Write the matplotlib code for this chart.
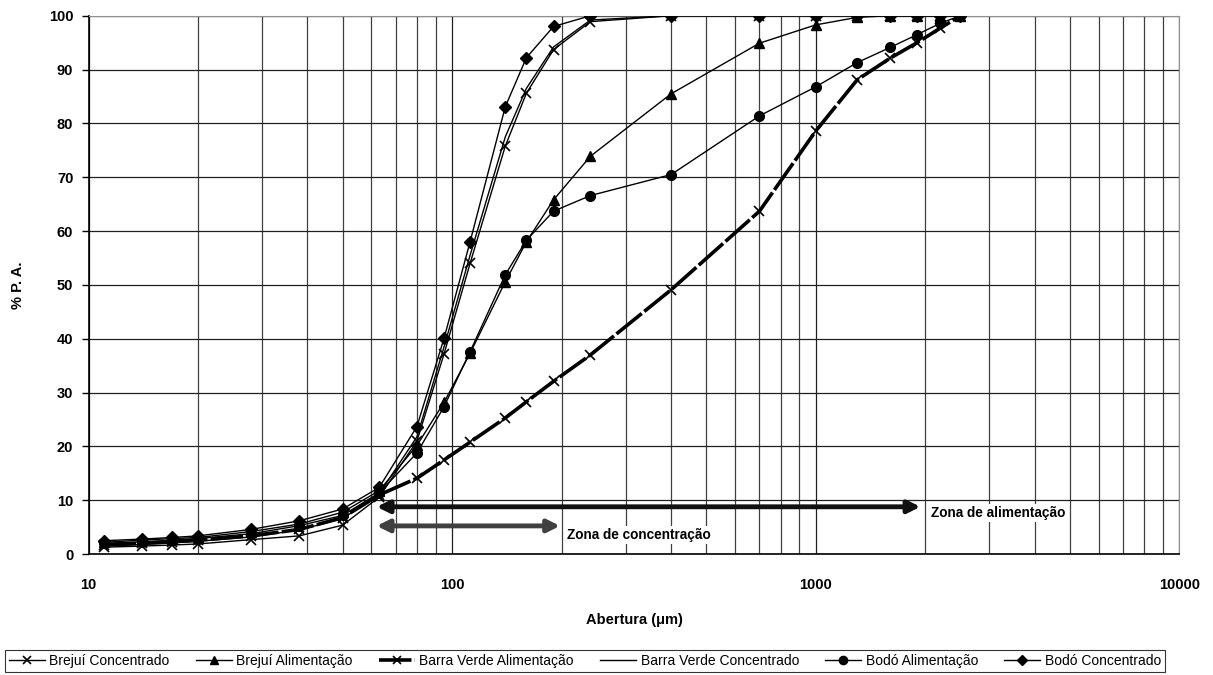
import matplotlib.pyplot as plt
from matplotlib.ticker import LogLocator, NullFormatter, FixedLocator

plt.rcParams['font.family'] = ['Liberation Sans', 'DejaVu Sans']

# sieve openings (um)
abertura = [11, 14, 17, 20, 28, 38, 50, 63, 80, 95, 112, 140, 160, 190, 240,
            400, 700, 1000, 1300, 1600, 1900, 2200, 2500]

brejui_conc = [1.3, 1.5, 1.7, 1.9, 2.7, 3.4, 5.4, 10.6, 21.0, 37.2, 54.0, 75.8,
               85.6, 93.7, 98.9, 100, 100, 100, 100, 100, 100, 100, 100]
brejui_alim = [2.2, 2.6, 2.9, 3.1, 4.2, 5.6, 7.8, 11.8, 20.2, 28.2, 37.3, 50.6,
               58.0, 65.8, 73.9, 85.5, 94.9, 98.3, 99.7, 100, 100, 100, 100]
bv_alim = [1.7, 2.0, 2.3, 2.6, 3.4, 4.6, 6.8, 11.0, 14.1, 17.5, 20.8, 25.3,
           28.3, 32.1, 37.0, 49.1, 63.7, 78.6, 88.1, 92.1, 95.0, 97.7, 100]
bv_conc = [1.6, 1.8, 2.1, 2.4, 3.2, 4.5, 6.6, 11.2, 21.8, 38.5, 55.5, 77.5,
           86.5, 94.2, 99.2, 100, 100, 100, 100, 100, 100, 100, 100]
bodo_alim = [2.0, 2.3, 2.6, 2.9, 3.8, 5.3, 7.2, 11.4, 18.8, 27.4, 37.6, 51.9,
             58.3, 63.7, 66.6, 70.5, 81.4, 86.8, 91.3, 94.1, 96.5, 98.6, 100]
bodo_conc = [2.5, 2.8, 3.1, 3.4, 4.6, 6.2, 8.4, 12.4, 23.7, 40.1, 58.0, 83.1,
             92.2, 98.0, 100, 100, 100, 100, 100, 100, 100, 100, 100]

# zones (um)
zona_alim = (62, 1940)
zona_conc = (62, 198)

fig = plt.figure(figsize=(12.13, 6.75), dpi=100)
ax = fig.add_axes([0.073, 0.179, 0.8993, 0.7977])

ms = 7
ax.plot(abertura, brejui_conc, color='black', lw=1, marker='x', ms=ms, mew=1.2,
        label='Brejuí Concentrado', zorder=4)
ax.plot(abertura, brejui_alim, color='black', lw=1, marker='^', ms=ms,
        label='Brejuí Alimentação', zorder=4)
ax.plot(abertura, bv_alim, color='black', lw=2.6, ls=(0, (9, 0.9)), marker='x', ms=ms,
        mew=1.2, label='Barra Verde Alimentação', zorder=4)
ax.plot(abertura, bv_conc, color='black', lw=1, label='Barra Verde Concentrado', zorder=4)
ax.plot(abertura, bodo_alim, color='black', lw=1, marker='o', ms=ms,
        label='Bodó Alimentação', zorder=4)
ax.plot(abertura, bodo_conc, color='black', lw=1, marker='D', ms=6.5,
        label='Bodó Concentrado', zorder=4)

ax.set_xscale('log')
ax.set_xlim(10, 10000)
ax.set_ylim(0, 100)
ax.xaxis.set_major_locator(FixedLocator([10, 100, 1000, 10000]))
ax.xaxis.set_minor_locator(LogLocator(base=10, subs=range(2, 10)))
ax.xaxis.set_minor_formatter(NullFormatter())
ax.set_xticklabels(['10', '100', '1000', '10000'])
ax.set_yticks(range(0, 101, 10))

ax.grid(True, which='major', color='#202020', lw=0.9, zorder=1)
ax.grid(True, which='minor', axis='x', color='#404040', lw=0.9, zorder=1)

ax.tick_params(axis='y', direction='out', length=5, width=1, pad=6,
               labelsize=10.5)
ax.tick_params(axis='x', which='major', direction='out', length=0, pad=17,
               labelsize=10.5)
ax.tick_params(axis='x', which='minor', length=0)
for lab in ax.get_xticklabels() + ax.get_yticklabels():
    lab.set_fontweight('bold')

for s in ['top', 'right']:
    ax.spines[s].set_color('#909090')
for s in ['left', 'bottom']:
    ax.spines[s].set_color('black')
    ax.spines[s].set_linewidth(1.2)

ax.set_xlabel('Abertura (μm)', fontsize=10.5, fontweight='bold', labelpad=15)
ax.set_ylabel('% P. A.', fontsize=10.5, fontweight='bold', labelpad=17)

# zone arrows
ax.annotate('', xy=(zona_alim[1], 8.8), xytext=(zona_alim[0], 8.8),
            arrowprops=dict(arrowstyle='<|-|>', color='#111111', lw=3.5,
                            mutation_scale=18, shrinkA=0, shrinkB=0), zorder=5)
ax.annotate('', xy=(zona_conc[1], 5.25), xytext=(zona_conc[0], 5.25),
            arrowprops=dict(arrowstyle='<|-|>', color='#404040', lw=3.5,
                            mutation_scale=18, shrinkA=0, shrinkB=0), zorder=5)
ax.text(2080, 7.6, 'Zona de alimentação', fontsize=9.8, fontweight='bold',
        va='center', ha='left', zorder=6,
        bbox=dict(facecolor='white', edgecolor='none', pad=1.5))
ax.text(207, 3.5, 'Zona de concentração', fontsize=9.8, fontweight='bold',
        va='center', ha='left', zorder=6,
        bbox=dict(facecolor='white', edgecolor='none', pad=1.5))

leg = fig.legend(loc='lower left', bbox_to_anchor=(5 / 1213, 3 / 675, 1160 / 1213, 0.03),
                 mode='expand', ncol=6, borderaxespad=0,
                 fontsize=10, frameon=True, fancybox=False, edgecolor='black',
                 handlelength=2.6, columnspacing=0.8, handletextpad=0.3,
                 borderpad=0.3, markerscale=0.85)
leg.get_frame().set_linewidth(0.8)

fig.savefig('out.png', dpi=100)
